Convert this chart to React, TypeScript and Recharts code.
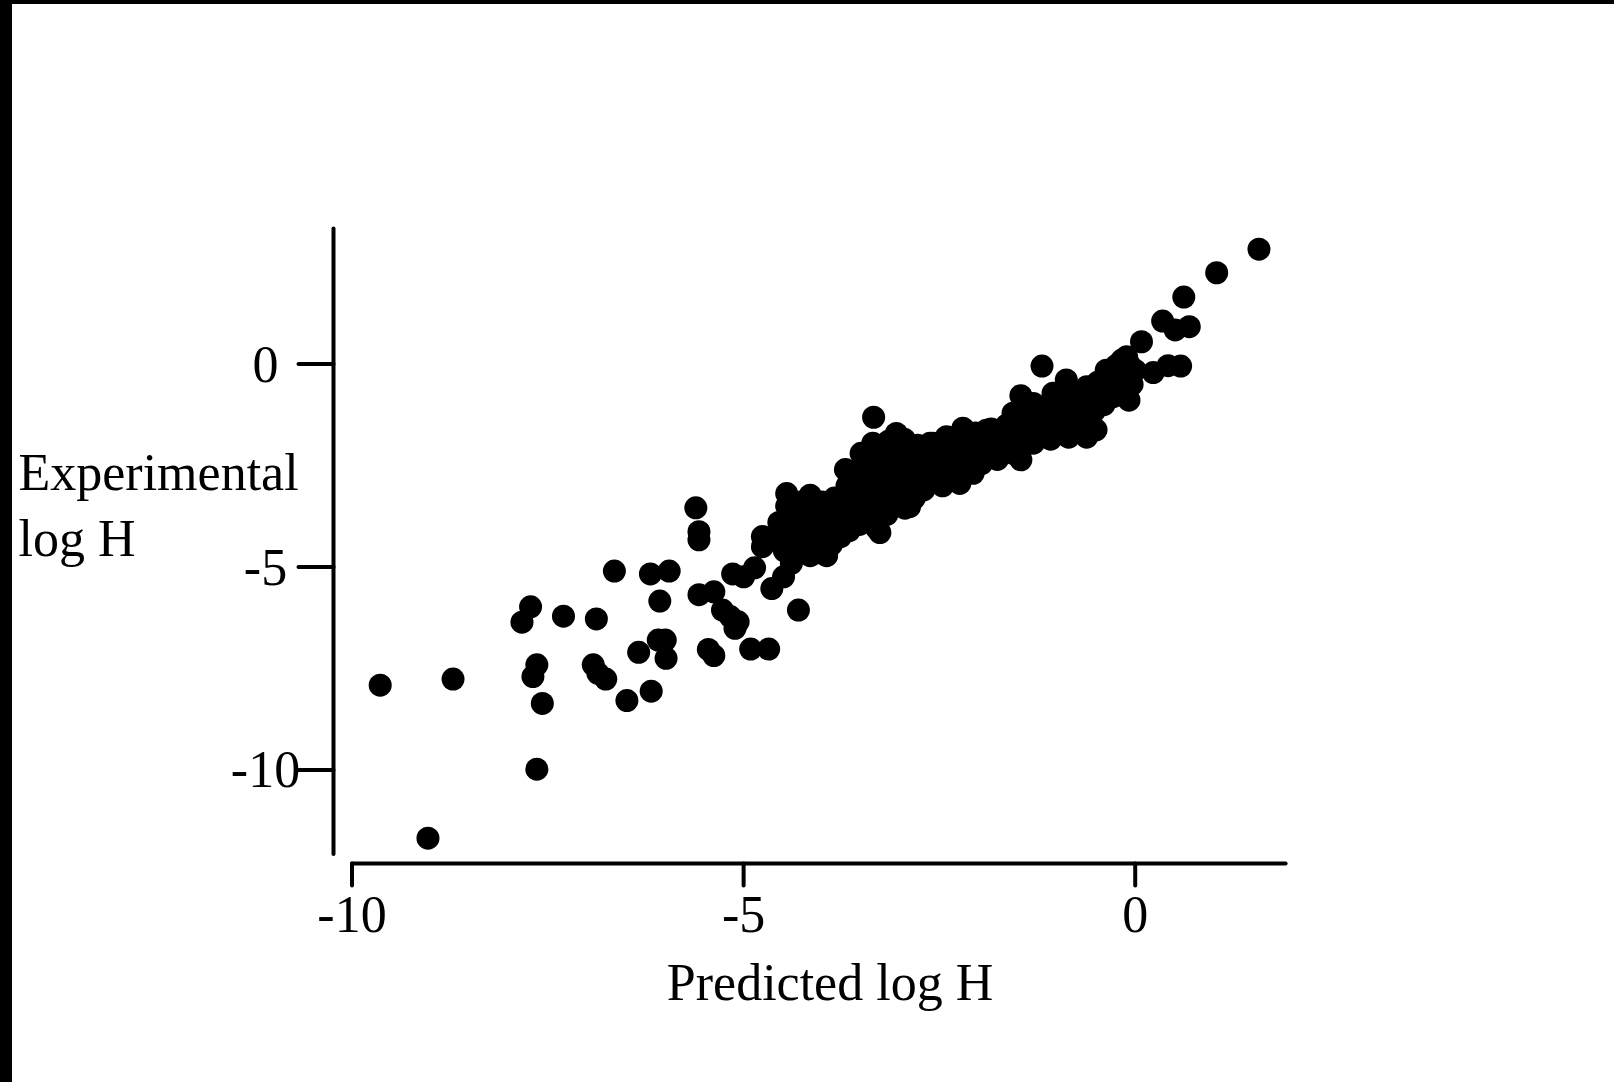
import { Scatter, ScatterChart, XAxis, YAxis } from "recharts";

const X_TICKS = [-10, -5, 0];
const Y_TICKS = [-10, -5, 0];
const X_DOMAIN: [number, number] = [-10, 1.92];
const Y_DOMAIN: [number, number] = [-12.07, 3.34];

// [predicted, experimental]
const TAIL_POINTS: [number, number][] = [
  [-9.64, -7.91], [-8.71, -7.76], [-9.03, -11.68], [-7.64, -9.98], [-7.72, -5.98],
  [-7.83, -6.36], [-7.3, -6.21], [-6.88, -6.28], [-6.65, -5.1], [-6.19, -5.17],
  [-5.95, -5.1], [-6.07, -5.84], [-5.61, -3.54], [-5.57, -4.13], [-5.57, -4.33],
  [-7.64, -7.41], [-7.69, -7.7], [-7.57, -8.36], [-6.92, -7.41], [-6.86, -7.62],
  [-6.76, -7.76], [-6.49, -8.29], [-6.18, -8.06], [-6.34, -7.1], [-6.09, -6.8],
  [-6.0, -6.8], [-5.99, -7.25], [-5.57, -5.68], [-5.38, -5.61], [-5.27, -6.06],
  [-5.17, -6.22], [-5.07, -6.35], [-5.11, -6.51], [-5.45, -7.03], [-5.38, -7.18],
  [-4.91, -7.02], [-4.68, -7.02], [-5.14, -5.17], [-5.0, -5.24], [-4.86, -5.02],
  [-4.64, -5.53], [-4.49, -5.24], [-4.39, -4.91], [-4.3, -6.06], [-4.76, -4.25],
  [-4.76, -4.5], [-4.45, -3.19], [-4.49, -4.13], [-4.15, -3.23], [-4.4, -4.72],
  [-4.15, -4.72], [-3.94, -4.72],
];

const BAND_POINTS: [number, number][] = [
  [-4.6, -4.3], [-4.55, -3.9], [-4.48, -4.6], [-4.45, -3.5], [-4.4, -4.15],
  [-4.35, -3.75], [-4.3, -4.5], [-4.27, -3.4], [-4.22, -4.05], [-4.18, -3.6],
  [-4.12, -4.4], [-4.08, -3.85], [-4.03, -4.65], [-4.0, -3.4], [-3.96, -4.15],
  [-3.92, -3.7], [-3.88, -4.45], [-3.84, -3.3], [-3.8, -3.95], [-3.76, -4.25],
  [-3.72, -3.55], [-3.68, -3.0], [-3.65, -4.1], [-3.62, -3.75], [-3.7, -2.6],
  [-3.58, -2.8], [-3.55, -3.4], [-3.52, -3.95], [-3.48, -2.55], [-3.45, -3.15],
  [-3.42, -3.7], [-3.38, -2.3], [-3.35, -2.9], [-3.32, -3.45], [-3.3, -4.05],
  [-3.26, -2.6], [-3.22, -3.2], [-3.2, -2.15], [-3.17, -3.7], [-3.14, -2.85],
  [-3.1, -2.4], [-3.07, -3.35], [-3.04, -2.05], [-3.0, -3.0], [-2.97, -2.55],
  [-2.94, -3.55], [-3.5, -2.2], [-3.35, -1.95], [-3.15, -1.9], [-2.95, -1.85],
  [-2.9, -2.25], [-2.86, -2.85], [-2.82, -3.3], [-2.78, -2.0], [-2.74, -2.6],
  [-2.7, -3.1], [-2.66, -2.35], [-2.62, -1.95], [-2.58, -2.8], [-2.54, -2.2],
  [-2.5, -2.55], [-2.46, -3.0], [-2.42, -1.9], [-2.38, -2.4], [-2.34, -2.7],
  [-2.3, -1.8], [-2.26, -2.2], [-2.22, -2.55],
  [-2.16, -1.85], [-2.12, -2.35], [-2.08, -2.6], [-2.04, -1.7], [-2.0, -2.1],
  [-1.96, -2.45], [-1.92, -1.8], [-1.88, -2.25], [-1.84, -1.6], [-1.8, -2.0],
  [-1.76, -2.35], [-1.72, -1.75], [-1.68, -2.1], [-1.64, -1.5], [-1.6, -1.9],
  [-1.56, -2.2], [-1.52, -1.65],
  [-1.44, -1.3], [-1.4, -1.7], [-1.36, -1.95], [-1.32, -1.45], [-1.28, -1.2],
  [-1.24, -1.75], [-1.2, -1.35], [-1.16, -1.6], [-1.12, -1.1], [-1.08, -1.85],
  [-1.04, -1.4], [-1.0, -1.2], [-0.96, -1.65], [-0.92, -0.95],
  [-0.88, -1.3], [-0.84, -0.8], [-0.8, -1.1], [-0.76, -1.45], [-0.72, -0.7],
  [-0.68, -1.0], [-0.64, -1.25], [-0.6, -0.6], [-0.56, -0.9], [-0.52, -1.15],
  [-0.48, -0.45], [-0.44, -0.75], [-0.4, -1.0], [-0.36, -0.55], [-0.32, -0.3],
  [-0.28, -0.8], [-0.24, -0.5], [-0.2, -0.2], [-0.16, -0.65], [-0.12, -0.35],
  [-0.08, 0.0], [-0.04, -0.5], [0.0, -0.15],
];

const UPPER_POINTS: [number, number][] = [
  [1.58, 2.83], [1.04, 2.25], [0.62, 1.65], [0.35, 1.06], [0.51, 0.84],
  [0.69, 0.92], [0.08, 0.55], [0.23, -0.21], [0.42, -0.04], [0.58, -0.05],
  [-0.08, -0.89], [-1.19, -0.05], [-1.46, -0.78], [-0.88, -0.39], [-3.34, -1.31],
  [-3.05, -1.71], [-1.46, -2.36], [-3.6, -2.64], [-3.26, -4.15], [-2.2, -1.58],
  [-0.11, 0.18], [-0.09, -0.48], [-0.17, 0.1], [-0.24, -0.03], [-0.37, -0.15],
  [-0.62, -0.56], [-0.36, -0.23], [-0.85, -1.8], [-0.62, -1.8], [-0.5, -1.62],
  [-2.88, -3.51], [-2.24, -2.94], [-2.07, -2.69], [-1.3, -1.95], [-1.9, -1.63],
  [-1.56, -1.21], [-1.3, -0.97], [-1.05, -0.72], [-2.58, -1.95], [-2.41, -1.79],
  [-1.77, -1.71],
];

const data = [...TAIL_POINTS, ...BAND_POINTS, ...UPPER_POINTS].map(([predicted, experimental]) => ({
  predicted,
  experimental
}));

const FONT = '"Liberation Serif", "Times New Roman", serif';
const AXIS_STROKE = { stroke: "#000", strokeWidth: 4, strokeLinecap: "round" as const };

function Dot(props: any) {
  return <circle cx={props.cx} cy={props.cy} r={11.5} fill="#000" />;
}

function XTick({ x, y, payload }: any) {
  return (
    <text x={x} y={y} dy="0.71em" textAnchor="middle" fontSize={52} fontFamily={FONT} fill="#000">
      {payload.value}
    </text>
  );
}

function YTick({ x, y, payload }: any) {
  return (
    <text x={x} y={y} textAnchor="middle" dominantBaseline="central" fontSize={52} fontFamily={FONT} fill="#000">
      {payload.value}
    </text>
  );
}

function YTitle() {
  return (
    <text x={18.5} y={490} fontSize={52} fontFamily={FONT} fill="#000">
      <tspan x={18.5}>Experimental</tspan>
      <tspan x={18.5} dy={66}>
        log H
      </tspan>
    </text>
  );
}

function XTitle() {
  return (
    <text x={830} y={1000} textAnchor="middle" fontSize={52} fontFamily={FONT} fill="#000">
      Predicted log H
    </text>
  );
}

export default function App() {
  return (
    <div style={{ position: "fixed", left: 0, top: 0, width: 1614, height: 1082, background: "#fff" }}>
      {/* detached axes: lines and tick marks sit off the plot edge */}
      <style>{`
        .recharts-yAxis .recharts-cartesian-axis-line,
        .recharts-yAxis .recharts-cartesian-axis-tick-line { transform: translate(-18.5px, 0); }
        .recharts-xAxis .recharts-cartesian-axis-line,
        .recharts-xAxis .recharts-cartesian-axis-tick-line { transform: translate(0, 9.6px); }
      `}</style>
      <div style={{ position: "absolute", left: 0, top: 0 }}>
        <ScatterChart width={1614} height={1082} margin={{ top: 228.5, right: 328.4, bottom: 128, left: 252 }}>
          <XAxis
            dataKey="predicted"
            type="number"
            domain={X_DOMAIN}
            ticks={X_TICKS}
            allowDataOverflow
            height={100}
            axisLine={AXIS_STROKE}
            tickLine={AXIS_STROKE}
            tickSize={22}
            tickMargin={18.6}
            tick={<XTick />}
            label={<XTitle />}
          />
          <YAxis
            dataKey="experimental"
            type="number"
            domain={Y_DOMAIN}
            ticks={Y_TICKS}
            allowDataOverflow
            width={100}
            axisLine={AXIS_STROKE}
            tickLine={AXIS_STROKE}
            tickSize={35}
            tickMargin={51.5}
            tick={<YTick />}
            label={<YTitle />}
          />
          <Scatter data={data} fill="#000" shape={Dot} isAnimationActive={false} />
        </ScatterChart>
      </div>
      <div style={{ position: "absolute", left: 0, top: 0, width: 1614, height: 4, background: "#000" }} />
      <div style={{ position: "absolute", left: 0, top: 0, width: 12, height: 1082, background: "#000" }} />
    </div>
  );
}
